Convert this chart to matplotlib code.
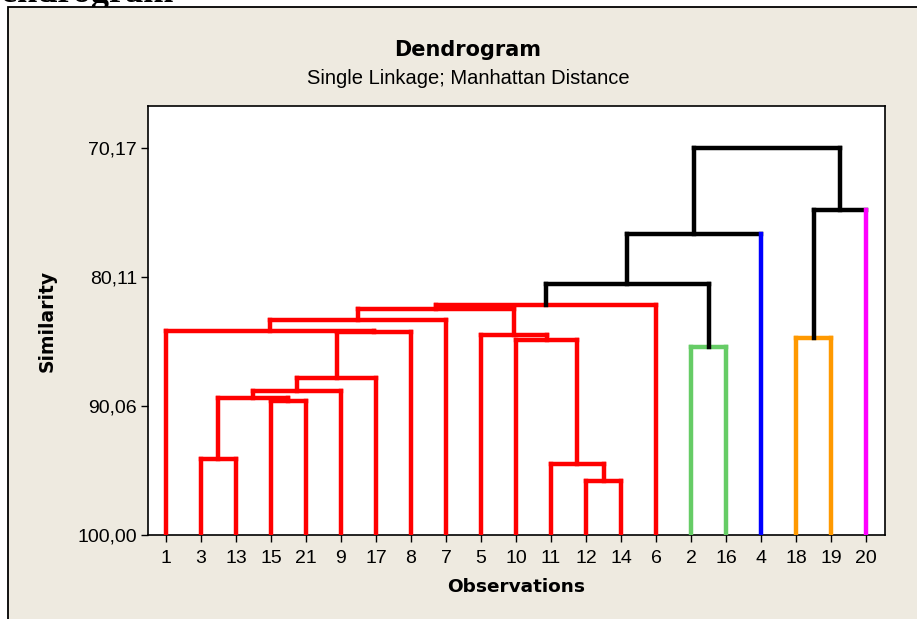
import matplotlib
matplotlib.use("Agg")
import matplotlib.pyplot as plt
from matplotlib.patches import Rectangle

# Leaf order along the horizontal axis
leaf_order = [1, 3, 13, 15, 21, 9, 17, 8, 7, 5, 10, 11, 12, 14, 6, 2, 16, 4, 18, 19, 20]

# Amalgamation steps: clusters joined (a cluster is named by its lowest observation)
join_a = [12, 11, 3, 15, 3, 3, 3, 2, 10, 18, 5, 3, 1, 1, 1, 1, 1, 1, 18, 1]
join_b = [14, 12, 13, 21, 15, 9, 17, 16, 11, 19, 10, 8, 3, 7, 5, 6, 2, 4, 20, 18]
similarity = [95.83, 94.55, 94.14, 89.66, 89.43, 88.90, 87.90, 85.50, 84.95, 84.82,
              84.57, 84.31, 84.26, 83.41, 82.56, 82.29, 80.63, 76.80, 74.92, 70.17]

# Final partition and its colours
cluster_groups = [[1, 3, 13, 15, 21, 9, 17, 8, 7, 5, 10, 11, 12, 14, 6],
                  [2, 16], [4], [18, 19], [20]]
group_colors = ["#FF0000", "#66CC66", "#0000FF", "#FF9900", "#FF00FF"]

y_ticks = [70.17, 80.11, 90.06, 100.00]
y_tick_labels = ["70,17", "80,11", "90,06", "100,00"]

W, H = 917, 619
fig = plt.figure(figsize=(W / 100, H / 100), dpi=100, facecolor="white")

# Page frame
fig.patches.append(Rectangle((8 / W, -0.05), 1.2, 1.05 - 7 / H, transform=fig.transFigure,
                             facecolor="#EEEAE0", edgecolor="black", linewidth=1.3,
                             zorder=-10))
fig.text(-25 / W, 1 - 2 / H, "Dendrogram", fontsize=26, fontweight="bold",
         family="Liberation Serif", ha="left", va="baseline", zorder=-20)

ax = fig.add_axes([148 / W, 1 - 535 / H, (885 - 148) / W, (535 - 106) / H])
ax.set_zorder(1)
ax.set_facecolor("white")

pos = {obs: i + 1 for i, obs in enumerate(leaf_order)}
leaf_group = {obs: gi for gi, g in enumerate(cluster_groups) for obs in g}
node_x = dict(pos)
node_y = {obs: 100.0 for obs in leaf_order}
members = {obs: {obs} for obs in leaf_order}

lw = 3.2
for a, b, s in zip(join_a, join_b, similarity):
    merged = members[a] | members[b]
    grp = {leaf_group[m] for m in merged}
    col = group_colors[grp.pop()] if len(grp) == 1 else "black"
    for c in (a, b):
        vcol = group_colors[leaf_group[c]] if len(members[c]) == 1 else col
        ax.plot([node_x[c], node_x[c]], [node_y[c], s], color=vcol, lw=lw,
                solid_capstyle="projecting", zorder=3 if vcol != "black" else 2)
    ax.plot([node_x[a], node_x[b]], [s, s], color=col, lw=lw,
            solid_capstyle="projecting", zorder=2)
    new = min(a, b)
    node_x[new] = (node_x[a] + node_x[b]) / 2
    node_y[new] = s
    members[new] = merged

ax.set_xlim(0.49, 21.54)
ax.set_ylim(100.0, 66.91)

ax.set_xticks(range(1, len(leaf_order) + 1))
ax.set_xticklabels([str(o) for o in leaf_order], family="Liberation Sans", fontsize=14)
ax.set_yticks(y_ticks)
ax.set_yticklabels(y_tick_labels, family="Liberation Sans", fontsize=14)
ax.tick_params(axis="both", direction="out", length=5, width=1, color="black")
ax.tick_params(axis="x", pad=6)
ax.tick_params(axis="y", pad=3)
for sp in ax.spines.values():
    sp.set_linewidth(1.2)
    sp.set_color("black")

ax.set_xlabel("Observations", family="DejaVu Sans", fontweight="bold", fontsize=13.3,
              labelpad=8)
ax.set_ylabel("Similarity", family="DejaVu Sans", fontweight="bold", fontsize=13.5,
              labelpad=15)

fig.text(468 / W, 1 - 50 / H, "Dendrogram", family="DejaVu Sans", fontweight="bold",
         fontsize=15, ha="center", va="center")
fig.text(468 / W, 1 - 78 / H, "Single Linkage; Manhattan Distance",
         family="Liberation Sans", fontsize=14.5, ha="center", va="center")

fig.savefig("out.png", dpi=100, facecolor="white")
